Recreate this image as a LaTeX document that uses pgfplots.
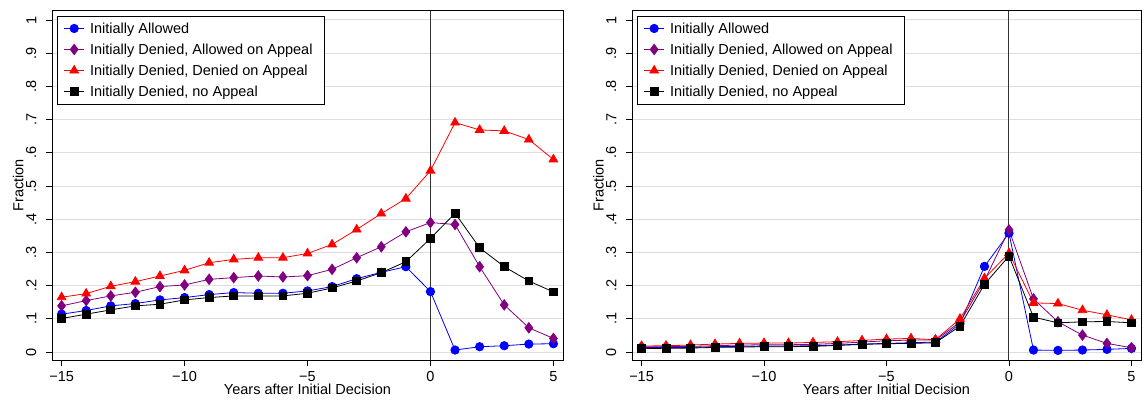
\documentclass[border=0pt]{standalone}
\usepackage{fontspec}
\setmainfont{Liberation Sans}
\usepackage{pgfplots}
\usepackage{pgfplotstable}
\pgfplotsset{compat=1.18}
\definecolor{sblue}{RGB}{0,0,255}
\definecolor{spurple}{RGB}{128,0,128}
\definecolor{sred}{RGB}{255,0,0}
\definecolor{sgrid}{RGB}{222,222,222}
\definecolor{vline}{RGB}{50,50,50}
\newcommand{\lf}{\fontsize{14.5}{17}\selectfont}

\pgfplotstableread{
x bA pA rA kA
-15 0.114 0.139 0.165 0.101
-14 0.125 0.155 0.176 0.114
-13 0.139 0.169 0.198 0.127
-12 0.146 0.180 0.212 0.139
-11 0.157 0.197 0.229 0.144
-10 0.164 0.202 0.246 0.157
-9 0.173 0.219 0.269 0.164
-8 0.179 0.224 0.279 0.169
-7 0.177 0.229 0.284 0.169
-6 0.177 0.226 0.284 0.169
-5 0.184 0.230 0.297 0.177
-4 0.197 0.249 0.324 0.193
-3 0.221 0.284 0.369 0.214
-2 0.240 0.317 0.417 0.239
-1 0.257 0.362 0.462 0.272
0 0.182 0.390 0.546 0.342
1 0.006 0.384 0.691 0.418
2 0.016 0.257 0.669 0.314
3 0.019 0.142 0.666 0.257
4 0.024 0.073 0.640 0.214
5 0.025 0.041 0.580 0.181
}\dataA

\pgfplotstableread{
x bB pB rB kB
-15 0.013 0.016 0.018 0.011
-14 0.014 0.016 0.019 0.011
-13 0.014 0.017 0.021 0.012
-12 0.016 0.019 0.024 0.014
-11 0.017 0.021 0.026 0.015
-10 0.018 0.022 0.027 0.016
-9 0.018 0.022 0.027 0.016
-8 0.019 0.023 0.029 0.017
-7 0.021 0.026 0.031 0.020
-6 0.024 0.030 0.035 0.023
-5 0.026 0.034 0.039 0.025
-4 0.028 0.036 0.041 0.026
-3 0.030 0.036 0.037 0.028
-2 0.085 0.090 0.100 0.078
-1 0.258 0.215 0.222 0.204
0 0.358 0.368 0.298 0.289
1 0.006 0.160 0.148 0.105
2 0.005 0.091 0.146 0.088
3 0.006 0.051 0.126 0.091
4 0.008 0.026 0.112 0.092
5 0.011 0.013 0.097 0.088
}\dataB

\pgfplotsset{
  panel/.style={
    scale only axis,
    width=511pt, height=349.3pt,
    xmin=-15.39, xmax=5.39,
    ymin=-0.024, ymax=1.028,
    axis line style={black, line width=1pt},
    tick align=outside,
    tick pos=left,
    major tick length=6pt,
    every tick/.style={black, line width=0.8pt},
    ymajorgrids,
    grid style={sgrid, line width=1pt},
    xtick={-15,-10,-5,0,5},
    xticklabels={−15,−10,−5,0,5},
    ytick={0,0.1,0.2,0.3,0.4,0.5,0.6,0.7,0.8,0.9,1},
    yticklabels={0,.1,.2,.3,.4,.5,.6,.7,.8,.9,1},
    tick label style={font=\lf},
    yticklabel style={xshift=-9.5pt, rotate=90, anchor=south, inner sep=0pt},
    xticklabel style={anchor=north, inner sep=0pt, yshift=-5pt},
    label style={font=\lf},
    xlabel={Years after Initial Decision},
    ylabel={Fraction},
    xlabel style={at={(axis description cs:0.5,-0.1)}, anchor=base},
    ylabel style={at={(axis description cs:-0.066,0.5)}, anchor=center, rotate=0},
    legend style={at={(0.01,0.986)}, anchor=north west, draw=black, line width=0.8pt,
      font=\lf, row sep=5pt, inner xsep=6.3pt, inner ysep=4.5pt,
      nodes={inner xsep=5.5pt, inner ysep=2pt}},
    legend cell align=left,
    legend image code/.code={\draw[mark repeat=2,mark phase=2,##1] plot coordinates {(0pt,0pt) (10pt,0pt) (20pt,0pt)};},
  },
  sB/.style={sblue, line width=0.8pt, mark=*, mark size=4.2pt, mark options={solid}},
  sP/.style={spurple, line width=0.8pt, mark=diamond*, mark size=5.2pt, mark options={solid}},
  sR/.style={sred, line width=0.8pt, mark=triangle*, mark size=5pt, mark options={solid}},
  sK/.style={black, line width=0.8pt, mark=square*, mark size=3.9pt, mark options={solid}},
}

\begin{document}
\begin{tikzpicture}
\useasboundingbox (0,0) rectangle (1144pt,400pt);
\begin{axis}[panel, at={(52pt,40pt)}, anchor=south west]
\addplot[vline, line width=1pt, forget plot] coordinates {(0,-0.024) (0,1.028)};
\addplot[sB] table[x=x, y=bA] {\dataA};
\addlegendentry{\lf Initially Allowed}
\addplot[sP] table[x=x, y=pA] {\dataA};
\addlegendentry{\lf Initially Denied, Allowed on Appeal}
\addplot[sR] table[x=x, y=rA] {\dataA};
\addlegendentry{\lf Initially Denied, Denied on Appeal}
\addplot[sK] table[x=x, y=kA] {\dataA};
\addlegendentry{\lf Initially Denied, no Appeal}
\end{axis}
\begin{axis}[panel, width=509pt, at={(632pt,40pt)}, anchor=south west]
\addplot[vline, line width=1pt, forget plot] coordinates {(0,-0.024) (0,1.028)};
\addplot[sB] table[x=x, y=bB] {\dataB};
\addlegendentry{\lf Initially Allowed}
\addplot[sP] table[x=x, y=pB] {\dataB};
\addlegendentry{\lf Initially Denied, Allowed on Appeal}
\addplot[sR] table[x=x, y=rB] {\dataB};
\addlegendentry{\lf Initially Denied, Denied on Appeal}
\addplot[sK] table[x=x, y=kB] {\dataB};
\addlegendentry{\lf Initially Denied, no Appeal}
\end{axis}
\end{tikzpicture}
\end{document}
